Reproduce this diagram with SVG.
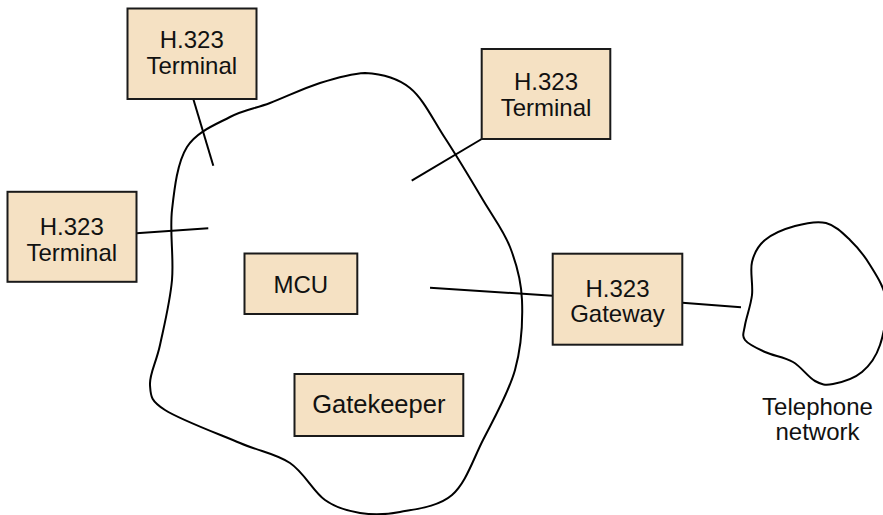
<svg xmlns="http://www.w3.org/2000/svg" width="883" height="515" viewBox="0 0 883 515">
<style>
.box{fill:#f5e1c3;stroke:#1a1a1a;stroke-width:2}
.t{font-family:"Liberation Sans",Arial,sans-serif;font-size:24px;fill:#111;text-anchor:middle}
.big{font-size:25.5px}
.ln{stroke:#000;stroke-width:2;fill:none}
.cloud{stroke:#000;stroke-width:2;fill:none}
</style>
<rect width="883" height="515" fill="#fff"/>
<g id="clouds">
<path id="network-cloud" class="cloud" d="M 365 73 C 380 73.8, 396.7 77.2, 410 88 C 423.3 98.8, 432.8 119.3, 445 138 C 457.2 156.7, 472.2 181.8, 483 200 C 493.8 218.2, 503.5 230.3, 510 247 C 516.5 263.7, 521.2 279.5, 522 300 C 522.8 320.5, 521.5 346.7, 515 370 C 508.5 393.3, 493.5 419.2, 483 440 C 472.5 460.8, 465.8 483, 452 495 C 438.2 507, 415.3 509, 400 512 C 384.7 515, 372.5 515, 360 513 C 347.5 511, 336.7 508.3, 325 500 C 313.3 491.7, 304.2 472.5, 290 463 C 275.8 453.5, 260.8 451.8, 240 443 C 219.2 434.2, 180 419.7, 165 410 C 150 400.3, 150.8 395.8, 150 385 C 149.2 374.2, 156.3 362.5, 160 345 C 163.7 327.5, 170 302.5, 172 280 C 174 257.5, 169.5 232.2, 172 210 C 174.5 187.8, 177.3 162.5, 187 147 C 196.7 131.5, 216.2 124.3, 230 117 C 243.8 109.7, 255 108.7, 270 103 C 285 97.3, 304.2 88, 320 83 C 335.8 78, 350 73.8, 365 73 Z"/>
<path id="telephone-cloud" class="cloud" d="M 826 223 C 835.2 225.3, 842.7 233, 850 240 C 857.3 247, 864 255, 870 265 C 876 275, 884.3 286.7, 886 300 C 887.7 313.3, 884 333, 880 345 C 876 357, 869.8 365.5, 862 372 C 854.2 378.5, 840.8 382.5, 833 384 C 825.2 385.5, 821.7 384.7, 815 381 C 808.3 377.3, 801.3 366.8, 793 362 C 784.7 357.2, 773 355.7, 765 352 C 757 348.3, 748.3 344.5, 745 340 C 741.7 335.5, 743.8 332.5, 745 325 C 746.2 317.5, 750.8 305.5, 752 295 C 753.2 284.5, 749.8 271.2, 752 262 C 754.2 252.8, 757.8 246, 765 240 C 772.2 234, 784.8 228.8, 795 226 C 805.2 223.2, 816.8 220.7, 826 223 Z"/>
</g>
<g id="connectors">
<line class="ln" x1="193.3" y1="99" x2="213.3" y2="165.7"/>
<line class="ln" x1="136.3" y1="233.3" x2="208.3" y2="228.3"/>
<line class="ln" x1="481.7" y1="139" x2="411.7" y2="180.7"/>
<line class="ln" x1="430" y1="287.7" x2="552.7" y2="295.7"/>
<line class="ln" x1="682.3" y1="302.7" x2="741" y2="307.3"/>
</g>
<g id="terminal-top">
<rect class="box" x="127.5" y="8.5" width="129" height="90.5"/>
<text class="t" x="191.8" y="48.3">H.323</text>
<text class="t" x="191.8" y="74">Terminal</text>
</g>
<g id="terminal-left">
<rect class="box" x="7.5" y="191.8" width="129" height="90"/>
<text class="t" x="71.8" y="235">H.323</text>
<text class="t" x="71.8" y="261">Terminal</text>
</g>
<g id="terminal-right">
<rect class="box" x="481.7" y="49" width="128.6" height="90"/>
<text class="t" x="546" y="90">H.323</text>
<text class="t" x="546" y="116">Terminal</text>
</g>
<g id="gateway">
<rect class="box" x="552.7" y="253.7" width="129.6" height="91"/>
<text class="t" x="617.5" y="296.7">H.323</text>
<text class="t" x="617.5" y="322">Gateway</text>
</g>
<g id="mcu">
<rect class="box" x="244.5" y="253.5" width="112.8" height="60.5"/>
<text class="t" x="300.8" y="292.7">MCU</text>
</g>
<g id="gatekeeper">
<rect class="box" x="294.5" y="374" width="168.8" height="62"/>
<text class="t big" x="378.8" y="413">Gatekeeper</text>
</g>
<g id="telephone-label">
<text class="t" x="817.5" y="415">Telephone</text>
<text class="t" x="817.5" y="440">network</text>
</g>
</svg>
